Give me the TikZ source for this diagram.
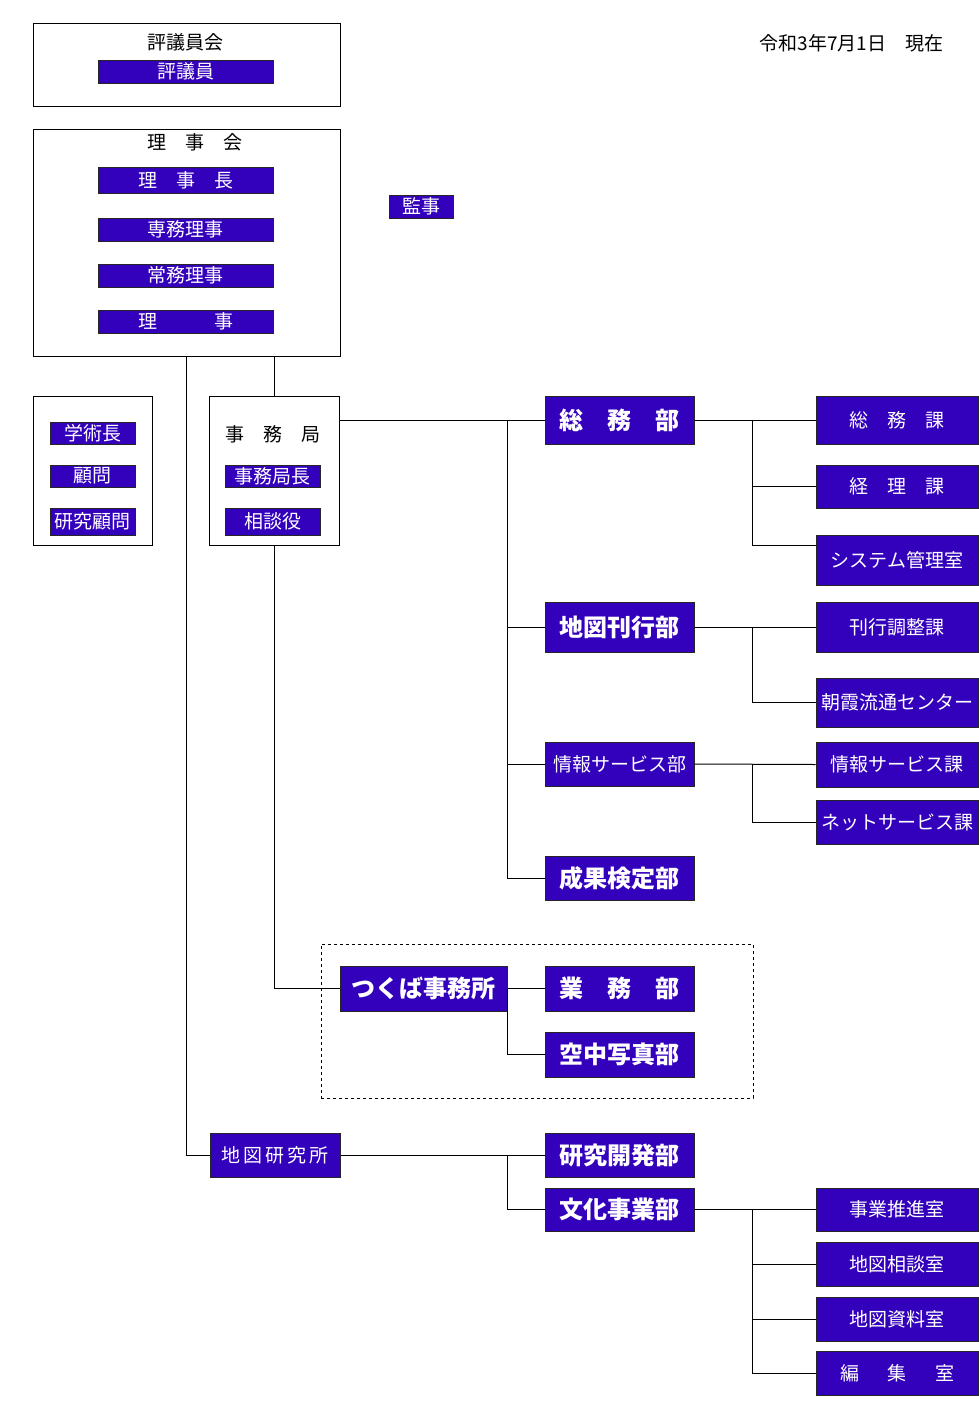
\documentclass[tikz,border=0pt]{standalone}
\usepackage{fontspec}
\setmainfont{Noto Sans CJK JP}
\usetikzlibrary{positioning, calc}
\definecolor{orgblue}{RGB}{51,0,187}
\newcommand\jpnormal{\fontsize{19}{19}\selectfont}
\newcommand\jpbig{\fontsize{24}{24}\selectfont\bfseries}
\tikzset{
  post/.style={draw=black!85, fill=orgblue, text=white, line width=1pt, inner sep=0pt, font=\jpnormal},
  dept/.style={post, minimum width=149pt, minimum height=46pt},
  deptbf/.style={dept, font=\jpbig},
  sect/.style={post, minimum width=162pt, minimum height=45pt},
  framebox/.style={draw, line width=1pt, inner sep=0pt},
  heading/.style={inner sep=0pt, font=\jpnormal},
  link/.style={line width=1pt}
}

\begin{document}
\begin{tikzpicture}[x=1pt, y=-1pt]
    \useasboundingbox (0,0) rectangle (979,1409);
    %--- 評議員会 ---
    \node[framebox, minimum width=307pt, minimum height=83pt] (hyogikai) at (186.5,64.5) {};
    \node[heading] (hyogikaititle) at (185.5,42.5) {評議員会};
    \node[post, minimum width=175pt, minimum height=23pt] (hyogiin) at (185.5,71.5) {評議員};
    \node[heading] (date) at (851.5,43.5) {令和3年7月1日　現在};
    %--- 理事会 ---
    \node[framebox, minimum width=307pt, minimum height=227pt] (rijikai) at (186.5,242.5) {};
    \node[heading] (rijikaititle) at (195,142.5) {理　事　会};
    \node[post, minimum width=175pt, minimum height=26pt] (rijicho) at (185.5,180) {理　事　長};
    \node[post, minimum width=175pt, minimum height=23pt] (senmu) at (185.5,229.5) {専務理事};
    \node[post, minimum width=175pt, minimum height=23pt] (jomu) at (185.5,275.5) {常務理事};
    \node[post, minimum width=175pt, minimum height=23pt] (riji) at (185.5,321.5) {理　　　事};
    \node[post, minimum width=64pt, minimum height=23pt] (kanji) at (421,206.5) {監事};
    %--- 学術長・顧問 ---
    \node[framebox, minimum width=119pt, minimum height=149pt] (komon) at (92.5,470.5) {};
    \node[post, minimum width=85pt, minimum height=22pt] (gakujutsu) at (92.5,433) {学術長};
    \node[post, minimum width=85pt, minimum height=22pt] (komon1) at (92.5,476) {顧問};
    \node[post, minimum width=85pt, minimum height=27pt] (kenkyukomon) at (92.5,521.5) {研究顧問};
    %--- 事務局 ---
    \node[framebox, minimum width=130pt, minimum height=149pt] (jimukyoku) at (274,470.5) {};
    \node[heading] (jimukyokutitle) at (273,434.5) {事　務　局};
    \node[post, minimum width=95pt, minimum height=22pt] (kyokucho) at (272.5,476) {事務局長};
    \node[post, minimum width=95pt, minimum height=27pt] (sodanyaku) at (272.5,521.5) {相談役};
    %--- 部 ---
    \node[deptbf, minimum height=48pt] (somu) at (619.5,420) {総　務　部};
    \node[deptbf, minimum height=50pt] (kanko) at (619.5,627) {地図刊行部};
    \node[dept, minimum height=44pt] (joho) at (619.5,764) {情報サービス部};
    \node[deptbf, minimum height=44pt] (seika) at (619.5,878) {成果検定部};
    %--- 課・室 ---
    \node[sect, minimum height=48pt] (somuka) at (897,420) {総　務　課};
    \node[sect, minimum height=43pt] (keiri) at (897,486.5) {経　理　課};
    \node[sect, minimum height=50pt] (system) at (897,560) {システム管理室};
    \node[sect, minimum height=50pt] (kankoka) at (897,627) {刊行調整課};
    \node[sect, minimum height=49pt] (asaka) at (897,702.5) {朝霞流通センター};
    \node[sect, minimum height=45pt] (johoka) at (897,764.5) {情報サービス課};
    \node[sect, minimum height=44pt] (net) at (897,822) {ネットサービス課};
    %--- つくば事務所 ---
    \node[framebox, dashed, line width=0.8pt, minimum width=432pt, minimum height=154pt] (tsukubaarea) at (537,1021) {};
    \node[post, font=\jpbig, minimum width=167pt, minimum height=45pt] (tsukuba) at (423.5,988.5) {つくば事務所};
    \node[deptbf, minimum height=45pt] (gyomu) at (619.5,988.5) {業　務　部};
    \node[deptbf, minimum height=45pt] (kuchu) at (619.5,1054.5) {空中写真部};
    %--- 地図研究所 ---
    \node[post, minimum width=130pt, minimum height=44pt] (kenkyusho) at (275,1155) {地\hspace{3pt}図\hspace{3pt}研\hspace{3pt}究\hspace{3pt}所};
    \node[deptbf, minimum height=44pt] (kaihatsu) at (619.5,1155) {研究開発部};
    \node[deptbf, minimum height=43pt] (bunka) at (619.5,1209.5) {文化事業部};
    \node[sect, minimum height=43pt] (suishin) at (897,1209.5) {事業推進室};
    \node[sect, minimum height=44pt] (sodan) at (897,1264) {地図相談室};
    \node[sect, minimum height=44pt] (shiryo) at (897,1319) {地図資料室};
    \node[sect, minimum height=44pt] (henshu) at (897,1373) {編\hspace{1.5em}集\hspace{1.5em}室};
    %--- 接続線 ---
    \coordinate (busA) at (507,420);
    \coordinate (busB) at (752,420);
    \coordinate (sysin) at ($(system.west)+(0,-15)$);
    \draw[link] (rijikai.south) |- (kenkyusho.west);
    \draw[link] (jimukyoku.north) -- (jimukyoku.north |- rijikai.south);
    \draw[link] (jimukyoku.east |- somu.west) -- (somu.west);
    \draw[link] (busA) |- (seika.west);
    \draw[link] (busA |- kanko.west) -- (kanko.west);
    \draw[link] (busA |- joho.west) -- (joho.west);
    \draw[link] (somu.east) -- (somuka.west);
    \draw[link] (busB) |- (sysin);
    \draw[link] (busB |- keiri.west) -- (keiri.west);
    \draw[link] (kanko.east) -- (kankoka.west);
    \draw[link] (busB |- kanko.east) |- (asaka.west);
    \draw[link] (joho.east) -- (johoka.west);
    \draw[link] (busB |- joho.east) |- (net.west);
    \draw[link] (jimukyoku.south) |- (tsukuba.west);
    \draw[link] (tsukuba.east) -- (gyomu.west);
    \draw[link] (tsukuba.east) |- (kuchu.west);
    \draw[link] (kenkyusho.east) -- (kaihatsu.west);
    \draw[link] (busA |- kenkyusho.east) |- (bunka.west);
    \draw[link] (bunka.east) -- (suishin.west);
    \draw[link] (busB |- bunka.east) |- (henshu.west);
    \draw[link] (busB |- sodan.west) -- (sodan.west);
    \draw[link] (busB |- shiryo.west) -- (shiryo.west);
\end{tikzpicture}
\end{document}
